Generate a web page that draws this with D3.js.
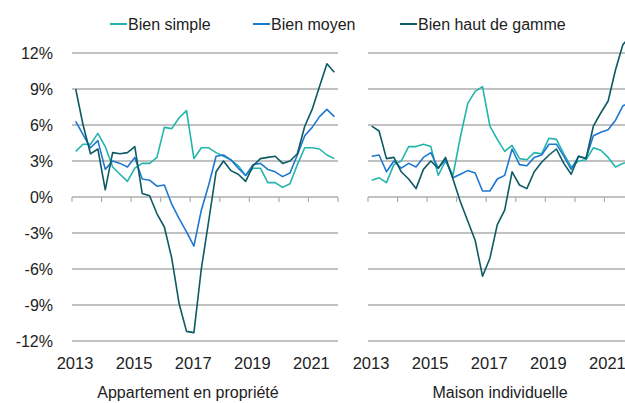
<!DOCTYPE html>
<html>
<head>
<meta charset="utf-8">
<script src="https://cdn.jsdelivr.net/npm/d3@7"></script>
<style>
  html, body { margin: 0; padding: 0; background: #fff; }
  text { font-family: "Liberation Sans", Arial, sans-serif; fill: #222; }
</style>
</head>
<body>
<div id="chart"></div>
<script>
// quarterly growth rates, 2013 Q1 .. 2021 Q4 (in %)
var startYear = 2013;

var seriesNames = ["Bien simple", "Bien moyen", "Bien haut de gamme"];
var seriesColors = ["#22b5ad", "#1e77d0", "#0c5a63"];

// Appartement en propriété
var simpleAppart = [3.8, 4.4, 4.4, 5.3, 4.2, 2.5, 1.9, 1.3, 2.4, 2.8, 2.8, 3.3, 5.8, 5.7, 6.6, 7.2, 3.2, 4.1,
                    4.1, 3.7, 3.4, 3.1, 2.6, 1.8, 2.4, 2.4, 1.2, 1.2, 0.8, 1.1, 2.7, 4.1, 4.1, 4.0, 3.5, 3.2];
var moyenAppart  = [6.3, 5.2, 4.1, 4.7, 2.3, 3.0, 2.8, 2.5, 3.3, 1.5, 1.4, 0.9, 1.0, -0.6, -1.8, -2.9, -4.1, -1.1,
                    1.0, 3.4, 3.5, 3.1, 2.4, 1.8, 2.7, 2.8, 2.3, 2.1, 1.7, 2.0, 3.5, 5.1, 5.8, 6.7, 7.3, 6.7];
var hautAppart   = [9.0, 6.0, 3.6, 4.0, 0.6, 3.7, 3.6, 3.7, 4.2, 0.3, 0.1, -1.4, -2.5, -5.1, -8.9, -11.2, -11.3, -6.0,
                    -2.0, 2.1, 3.0, 2.2, 1.9, 1.3, 2.6, 3.2, 3.3, 3.4, 2.8, 3.0, 3.6, 5.9, 7.3, 9.2, 11.1, 10.4];

// Maison individuelle
var simpleMaison = [1.4, 1.6, 1.2, 2.7, 3.0, 4.2, 4.2, 4.4, 4.2, 1.8, 3.0, 1.8, 5.0, 7.8, 8.8, 9.2, 5.9, 4.8,
                    3.8, 4.3, 3.2, 3.1, 3.7, 3.6, 4.9, 4.8, 3.6, 2.5, 3.0, 3.1, 4.1, 3.9, 3.3, 2.5, 2.8, 3.0];
var moyenMaison  = [3.4, 3.5, 2.1, 3.0, 2.4, 2.8, 2.5, 3.3, 3.7, 2.4, 3.1, 1.6, 1.9, 2.2, 2.0, 0.5, 0.5, 1.5,
                    1.8, 4.0, 2.7, 2.6, 3.3, 3.5, 4.4, 4.4, 3.4, 2.3, 3.4, 3.2, 5.1, 5.4, 5.6, 6.4, 7.6, 7.9];
var hautMaison   = [5.9, 5.5, 3.2, 3.3, 2.1, 1.5, 0.7, 2.3, 3.0, 2.4, 3.3, 1.5, -0.4, -2.0, -3.6, -6.6, -5.1, -2.3,
                    -1.1, 2.1, 1.0, 0.7, 2.1, 2.9, 3.5, 4.0, 2.8, 1.9, 3.4, 3.2, 5.9, 7.0, 8.0, 10.6, 12.7, 13.4];

var yTicks = [-12, -9, -6, -3, 0, 3, 6, 9, 12];
var xTickYears = [2013, 2014, 2015, 2016, 2017, 2018, 2019, 2020, 2021, 2022];
var xLabelYears = [2013, 2015, 2017, 2019, 2021];

var panels = [
  { title: "Appartement en propriété", series: [simpleAppart, moyenAppart, hautAppart], x0: 72, x1: 338, titleX: 188, showY: true },
  { title: "Maison individuelle", series: [simpleMaison, moyenMaison, hautMaison], x0: 368, x1: 634, titleX: 500, showY: false }
];

var width = 625, height = 403;

var svg = d3.select("#chart")
  .append("svg")
    .attr("width", width)
    .attr("height", height);

var y = d3.scaleLinear().domain([-12, 12]).range([341, 53]);

panels.forEach(function (p) {
  var x = d3.scaleLinear().domain([2013, 2022]).range([p.x0, p.x1]);
  var g = svg.append("g");

  // horizontal grid
  g.selectAll("line.grid")
    .data(yTicks)
    .enter()
    .append("line")
      .attr("class", "grid")
      .attr("x1", p.x0)
      .attr("x2", p.x1)
      .attr("y1", function (d) { return y(d); })
      .attr("y2", function (d) { return y(d); })
      .style("stroke", "#acacac")
      .style("stroke-width", 1.6);

  // year ticks hanging under the zero line
  g.selectAll("line.tick")
    .data(xTickYears)
    .enter()
    .append("line")
      .attr("x1", function (d) { return x(d); })
      .attr("x2", function (d) { return x(d); })
      .attr("y1", y(0))
      .attr("y2", y(0) + 5)
      .style("stroke", "#acacac")
      .style("stroke-width", 1.2);

  // year labels
  g.selectAll("text.xlab")
    .data(xLabelYears)
    .enter()
    .append("text")
      .attr("x", function (d) { return x(d) + 3; })
      .attr("y", 369)
      .style("text-anchor", "middle")
      .style("font-size", "16.5px")
      .text(function (d) { return d; });

  if (p.showY) {
    g.selectAll("text.ylab")
      .data(yTicks)
      .enter()
      .append("text")
        .attr("x", 53)
        .attr("y", function (d) { return y(d); })
        .attr("dy", "0.36em")
        .style("text-anchor", "end")
        .style("font-size", "16px")
        .text(function (d) { return d + "%"; });
  }

  // the three lines
  var line = d3.line()
    .x(function (d, i) { return x(startYear + (i + 0.5) / 4); })
    .y(function (d) { return y(d); });

  p.series.forEach(function (s, k) {
    g.append("path")
      .datum(s)
      .attr("d", line)
      .style("fill", "none")
      .style("stroke", seriesColors[k])
      .style("stroke-width", 1.6)
      .style("stroke-linejoin", "round");
  });

  // panel title under the axis
  g.append("text")
    .attr("x", p.titleX)
    .attr("y", 398)
    .style("text-anchor", "middle")
    .style("font-size", "16px")
    .text(p.title);
});

// legend at the top
var legendX = [110, 253, 400];
var legend = svg.selectAll("g.legend")
  .data(seriesNames)
  .enter()
  .append("g")
    .attr("transform", function (d, i) { return "translate(" + legendX[i] + ",24)"; });

legend.append("line")
  .attr("x1", 0)
  .attr("x2", 17)
  .style("stroke", function (d, i) { return seriesColors[i]; })
  .style("stroke-width", 2);

legend.append("text")
  .attr("x", 18)
  .attr("dy", "0.36em")
  .style("font-size", "16px")
  .text(function (d) { return d; });
</script>
</body>
</html>
